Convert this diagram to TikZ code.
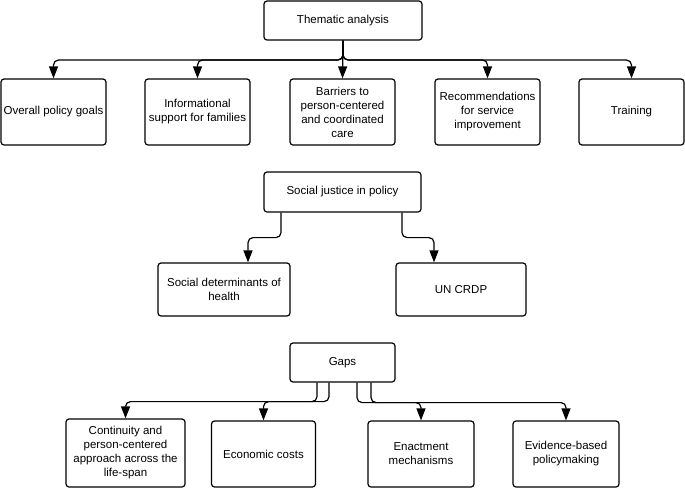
\documentclass[tikz,border=0pt]{standalone}
\usepackage{fontspec}
\setmainfont{Liberation Sans}
\usetikzlibrary{arrows.meta}
\begin{document}
\begin{tikzpicture}[x=1pt,y=-1pt,
  box/.style={draw, line width=1.2pt, rounded corners=3pt, align=center, inner sep=0pt,
    font=\fontsize{11.5}{14}\selectfont},
  conn/.style={line width=1.2pt, rounded corners=5pt, -{Triangle[length=12pt,width=9pt]}}]
\useasboundingbox (0,0) rectangle (685,488);
% Thematic analysis
\node[box, minimum width=158pt, minimum height=39pt] (th) at (343,20.5) {Thematic analysis};
\node[box, minimum width=105pt, minimum height=66pt] (b1) at (53.5,112) {Overall policy goals};
\node[box, minimum width=105pt, minimum height=66pt] (b2) at (197.5,112) {Informational\\support for families};
\node[box, minimum width=105pt, minimum height=66pt] (b3) at (342.5,112) {Barriers to\\person-centered\\and coordinated\\care};
\node[box, minimum width=105pt, minimum height=66pt] (b4) at (487.5,112) {Recommendations\\for service\\improvement};
\node[box, minimum width=105pt, minimum height=66pt] (b5) at (631.5,112) {Training};
\coordinate (tj) at (343,60);
\draw[conn] (th.south) -- (tj) -| (b1.north);
\draw[conn] (th.south) -- (tj) -| (b2.north);
\draw[conn] (th.south) -- (b3.north);
\draw[conn] (th.south) -- (tj) -| (b4.north);
\draw[conn] (th.south) -- (tj) -| (b5.north);
% Social justice
\node[box, minimum width=157pt, minimum height=40pt] (sj) at (342.5,192) {Social justice in policy};
\node[box, minimum width=132pt, minimum height=53pt] (sd) at (224,289.5) {Social determinants of\\health};
\node[box, minimum width=130pt, minimum height=53pt] (un) at (461,289.5) {UN CRDP};
\draw[conn] ([xshift=-61.5pt]sj.south) -- ++(0,25) -| ([xshift=24pt]sd.north);
\draw[conn] ([xshift=59.5pt]sj.south) -- ++(0,25) -| ([xshift=-27pt]un.north);
% Gaps
\node[box, minimum width=105pt, minimum height=39pt] (gp) at (342.5,362.5) {Gaps};
\node[box, minimum width=119pt, minimum height=68pt] (g1) at (125.5,453) {Continuity and\\person-centered\\approach across the\\life-span};
\node[box, minimum width=104pt, minimum height=66pt] (g2) at (263.5,454) {Economic costs};
\node[box, minimum width=106pt, minimum height=66pt] (g3) at (421,454) {Enactment\\mechanisms};
\node[box, minimum width=106pt, minimum height=66pt] (g4) at (566,454) {Evidence-based\\policymaking};
\draw[conn] ([xshift=-25.5pt]gp.south) -- ++(0,19) -| (g1.north);
\draw[conn] ([xshift=-13.5pt]gp.south) -- ++(0,19) -| (g2.north);
\draw[conn] ([xshift=14.5pt]gp.south) -- ++(0,20) -| (g3.north);
\draw[conn] ([xshift=28.5pt]gp.south) -- ++(0,20) -| (g4.north);
\end{tikzpicture}
\end{document}
